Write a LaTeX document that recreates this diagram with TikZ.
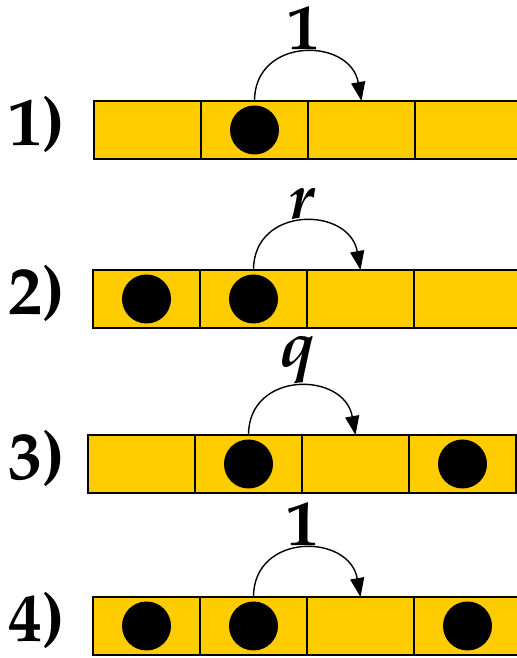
\documentclass[tikz,border=0pt]{standalone}
\usepackage[T1]{fontenc}
\usepackage{mathpazo}
\usepackage{bm}
\usetikzlibrary{arrows.meta, positioning}
\definecolor{amber1}{RGB}{255,204,0}

\begin{document}
\begin{tikzpicture}[x=0.5pt, y=0.5pt,
    cell/.style={rectangle, draw=black, fill=amber1, line width=0.7pt, minimum width=53.5pt, minimum height=29pt, inner sep=0pt, outer sep=0pt},
    ball/.style={circle, fill=black, minimum size=24.5pt, inner sep=0pt},
    myarrow/.style={-{Triangle[length=9.5pt,width=7pt]}, line width=0.7pt, black},
    rowlbl/.style={font=\fontsize{34}{36}\selectfont\bfseries, inner sep=0pt},
    ratelbl/.style={font=\fontsize{32}{34}\selectfont\bfseries\boldmath, inner sep=1pt}
]
\clip (0,0) rectangle (517,658);

% rows: number / y / left edge / occupied cells / rate
\foreach \r/\y/\x/\occ/\rate in {1/528/94/{2}/1, 2/359/93/{1,2}/$r$, 3/194/88/{2,4}/$q$, 4/32/93/{1,2,4}/1} {
    \foreach \i in {1,...,4} {
        \node[cell, name=c\r-\i] at (\x+107*\i-53.5,\y) {};
    }
    \foreach \i in \occ {
        \node[ball, name=b\r-\i] at (c\r-\i) {};
    }
    \node[rowlbl, name=lbl\r] at (37,\y+5) {\r)};
    \draw[myarrow] (c\r-2.north) to[out=90, in=100, looseness=1.55]
        node[ratelbl, above, name=rate\r] {\rate} (c\r-3.north);
}
\end{tikzpicture}
\end{document}
